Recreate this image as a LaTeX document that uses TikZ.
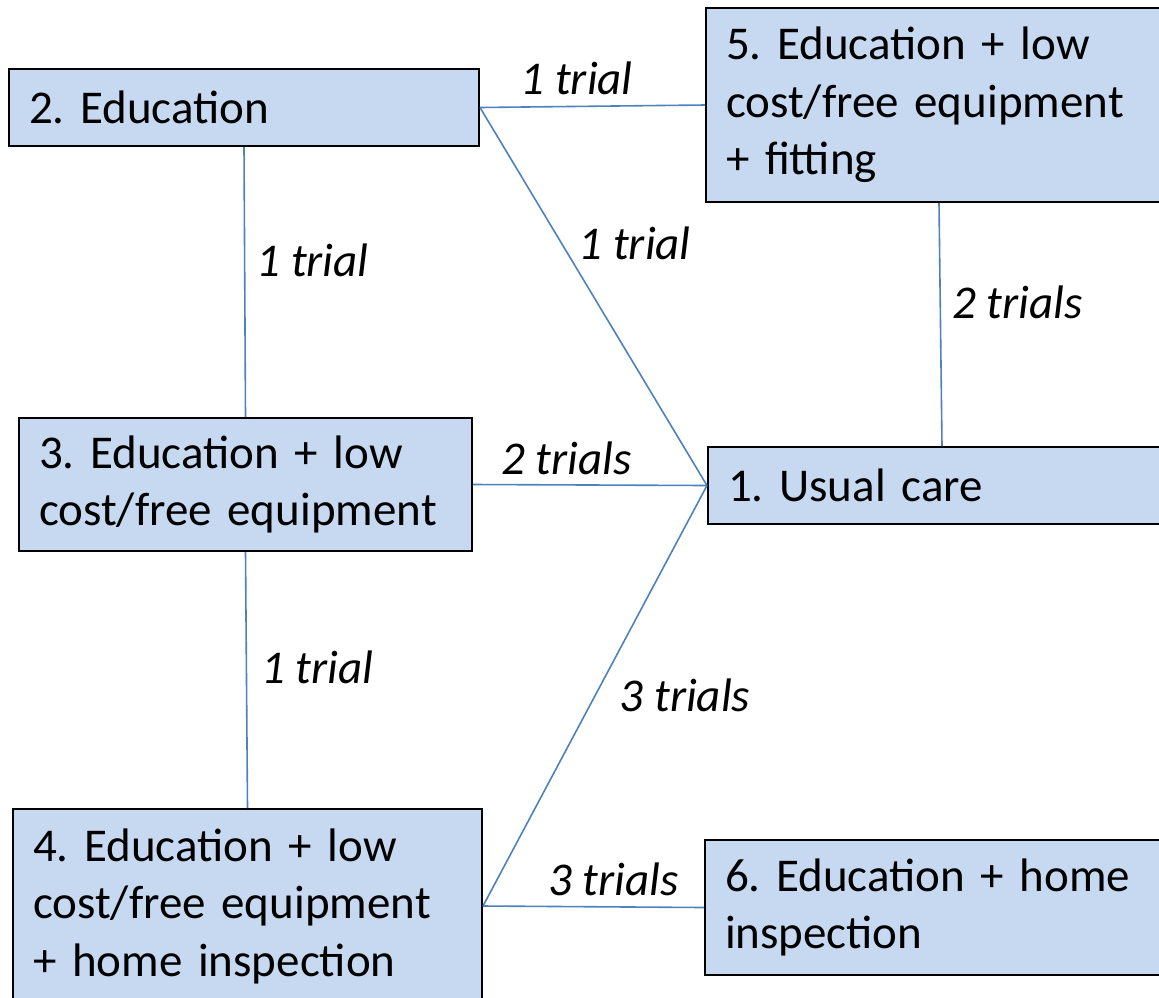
\documentclass[tikz,border=0pt]{standalone}
\usepackage{fontspec}
\setmainfont{Carlito}
\usetikzlibrary{positioning, calc}
\definecolor{boxfill}{HTML}{C6D9F1}
\definecolor{linkblue}{HTML}{4F81BD}
\frenchspacing

\begin{document}
\begin{tikzpicture}[x=1pt, y=-1pt,
  arm/.style={draw=black, line width=2pt, fill=boxfill, anchor=north west,
    inner xsep=20pt, inner ysep=0pt, align=left,
    font=\fontsize{47}{57.5}\selectfont},
  link/.style={draw=linkblue, line width=1.6pt},
  trials/.style={font=\fontsize{47}{57.5}\selectfont\itshape, inner sep=0pt}]
  \useasboundingbox (0,0) rectangle (1159,997);
  \clip (0,0) rectangle (1159,997);

  \node[arm, text width=430pt, minimum height=77pt] (edu) at (8,68) {2. Education};
  \node[arm, text width=426pt, minimum height=194pt] (fit) at (705,7)
    {5. Education + low\\cost/free equipment\\+ fitting};
  \node[arm, text width=413pt, minimum height=133pt] (equip) at (18,417)
    {3. Education + low\\cost/free equipment};
  \node[arm, text width=428pt, minimum height=77pt] (care) at (707,446) {1. Usual care};
  \node[arm, text width=429pt, minimum height=194pt] (insp) at (12,808)
    {4. Education + low\\cost/free equipment\\+ home inspection};
  \node[arm, text width=430pt, minimum height=135pt] (home) at (704,839)
    {6. Education + home\\inspection};

  \draw[link] (edu.east) -- node[trials, pos=.43, yshift=28pt] {1 trial} (fit.west);
  \draw[link] (edu.east) -- node[trials, pos=.36, xshift=73pt] {1 trial} (care.west);
  \draw[link] (edu.south) -- node[trials, pos=.42, xshift=68pt] {1 trial} (equip.north);
  \draw[link] (fit.south) -- node[trials, pos=.41, xshift=77pt] {2 trials} (care.north);
  \draw[link] (equip.east) -- node[trials, pos=.40, yshift=27pt] {2 trials} (care.west);
  \draw[link] (equip.south) -- node[trials, pos=.45, xshift=71pt] {1 trial} (insp.north);
  \draw[link] (insp.east) -- node[trials, pos=.50, xshift=90pt] {3 trials} (care.west);
  \draw[link] (insp.east) -- node[trials, pos=.59, yshift=28pt] {3 trials} (home.west);
\end{tikzpicture}
\end{document}
